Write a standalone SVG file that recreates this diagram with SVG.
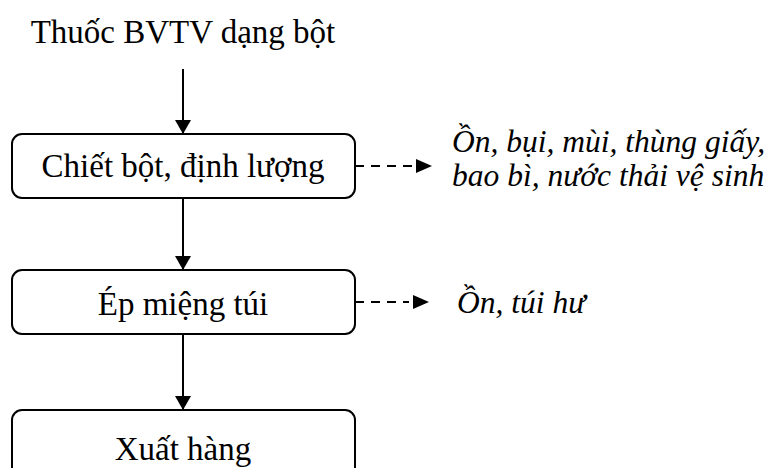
<svg xmlns="http://www.w3.org/2000/svg" width="770" height="468" viewBox="0 0 770 468">
  <style>
    .box { fill: #fff; stroke: #000; stroke-width: 2; }
    .lbl { font-family: "Liberation Serif", "Times New Roman", serif; font-size: 33px; fill: #000; }
    .note { font-family: "Liberation Serif", "Times New Roman", serif; font-size: 31.5px; font-style: italic; fill: #000; }
    .flow { stroke: #000; stroke-width: 2; fill: none; }
    .dash { stroke: #000; stroke-width: 2.2; fill: none; stroke-dasharray: 9 7; }
  </style>
  <defs>
    <marker id="head" viewBox="0 0 14 16" refX="14" refY="8" markerWidth="14" markerHeight="16" markerUnits="userSpaceOnUse" orient="auto">
      <path d="M0,0 L14,8 L0,16 Z" fill="#000"/>
    </marker>
  </defs>

  <g id="input">
    <text class="lbl" x="183" y="43" text-anchor="middle">Thuốc BVTV dạng bột</text>
  </g>

  <g id="fill-dose">
    <rect class="box" x="12" y="134" width="343" height="64" rx="10"/>
    <text class="lbl" x="183" y="177" text-anchor="middle">Chiết bột, định lượng</text>
  </g>

  <g id="seal">
    <rect class="box" x="12" y="270" width="343" height="64" rx="10"/>
    <text class="lbl" x="183" y="315" text-anchor="middle">Ép miệng túi</text>
  </g>

  <g id="ship">
    <rect class="box" x="12" y="410" width="343" height="70" rx="10"/>
    <text class="lbl" x="183" y="460" text-anchor="middle">Xuất hàng</text>
  </g>

  <g id="waste-1">
    <text class="note" x="452" y="152">Ồn, bụi, mùi, thùng giấy,</text>
    <text class="note" x="452" y="186">bao bì, nước thải vệ sinh</text>
  </g>

  <g id="waste-2">
    <text class="note" x="457" y="313">Ồn, túi hư</text>
  </g>

  <g id="connectors">
    <line class="flow" x1="183" y1="69" x2="183" y2="134" marker-end="url(#head)"/>
    <line class="flow" x1="183" y1="198" x2="183" y2="270" marker-end="url(#head)"/>
    <line class="flow" x1="183" y1="334" x2="183" y2="410" marker-end="url(#head)"/>
    <line class="dash" x1="355" y1="166" x2="412" y2="166"/>
    <path d="M416,159 L432,166 L416,173 Z" fill="#000"/>
    <line class="dash" x1="355" y1="302" x2="409" y2="302"/>
    <path d="M413,295 L429,302 L413,309 Z" fill="#000"/>
  </g>
</svg>
